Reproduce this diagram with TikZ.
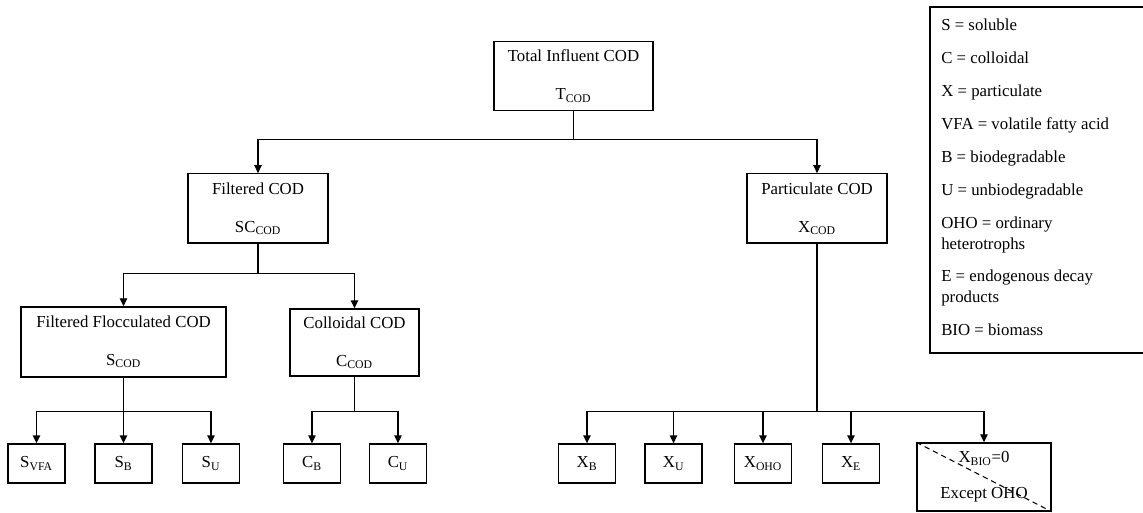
\documentclass[tikz,border=0pt]{standalone}
\usepackage{fontspec}
\setmainfont{Liberation Serif}
\usetikzlibrary{arrows.meta}
\begin{document}
\begin{tikzpicture}[
  x=0.75pt, y=-0.75pt,
  block/.style={rectangle, draw, line width=1pt, minimum width=105pt, minimum height=52pt, align=center, inner sep=2pt},
  leaf/.style={rectangle, draw, line width=1pt, minimum width=42.75pt, minimum height=29.25pt, inner sep=1pt},
  >={Triangle[length=6pt,width=5.5pt]},
  font=\fontsize{12.6}{15}\selectfont
]
\useasboundingbox (0,0) rectangle (1143,513);

% Top level
\node (tot) [block, minimum width=119.25pt] at (573.5,76) {Total Influent COD\\[13.5pt]T\textsubscript{COD}};

% Second level
\node (filt) [block] at (258,208.5) {Filtered COD\\[13.5pt]SC\textsubscript{COD}};
\node (part) [block] at (817,208.5) {Particulate COD\\[13.5pt]X\textsubscript{COD}};

% Filtered branch
\node (floc) [block, minimum width=153.75pt, minimum height=52.5pt] at (123.5,342) {Filtered Flocculated COD\\[13.5pt]S\textsubscript{COD}};
\node (coll) [block, minimum width=96.75pt, minimum height=50.25pt] at (354.5,342.5) {Colloidal COD\\[13.5pt]C\textsubscript{COD}};

% Soluble and colloidal fractions
\node (svfa) [leaf] at (36.5,463.5) {S\textsubscript{VFA}};
\node (sb) [leaf, right of=svfa, node distance=65.25pt] {S\textsubscript{B}};
\node (su) [leaf, right of=sb, node distance=65.6pt] {S\textsubscript{U}};
\node (cb) [leaf, right of=su, node distance=75.75pt] {C\textsubscript{B}};
\node (cu) [leaf, right of=cb, node distance=64.5pt] {C\textsubscript{U}};

% Particulate fractions
\node (xb) [leaf] at (587,463.5) {X\textsubscript{B}};
\node (xu) [leaf, right of=xb, node distance=64.9pt] {X\textsubscript{U}};
\node (xoho) [leaf, right of=xu, node distance=67.1pt] {X\textsubscript{OHO}};
\node (xe) [leaf, right of=xoho, node distance=66pt] {X\textsubscript{E}};
\node (xbio) [leaf, align=center, minimum width=100.5pt, minimum height=51pt] at (984,477) {X\textsubscript{BIO}=0\\[12pt]Except OHO};
\draw[line width=0.8pt, dash pattern=on 4pt off 3pt] (xbio.north west) -- (xbio.south east);

% Connections
\draw[->,line width=1pt] (tot.south) -- ++(0,28) -| (filt.north);
\draw[->,line width=1pt] (tot.south) -- ++(0,28) -| (part.north);
\draw[->,line width=1pt] (filt.south) -- ++(0,30) -| (floc.north);
\draw[->,line width=1pt] (filt.south) -- ++(0,30) -| (coll.north);
\foreach \n in {svfa,sb,su}
  \draw[->,line width=1pt] (floc.south) -- ++(0,34) -| (\n.north);
\foreach \n in {cb,cu}
  \draw[->,line width=1pt] (coll.south) -- ++(0,35) -| (\n.north);
\foreach \n in {xb,xu,xoho,xe,xbio}
  \draw[->,line width=1pt] (part.south) -- ++(0,168) -| (\n.north);

% Key
\draw[line width=1pt] (930,7) rectangle (1170,353);
\node (key) [anchor=north west, align=left, inner sep=0pt, font=\fontsize{12.6}{15.75}\selectfont] at (941,19) {S = soluble\\[8.9pt]
C = colloidal\\[8.9pt]
X = particulate\\[8.9pt]
VFA = volatile fatty acid\\[8.9pt]
B = biodegradable\\[8.9pt]
U = unbiodegradable\\[8.9pt]
OHO = ordinary\\heterotrophs\\[8.9pt]
E = endogenous decay\\products\\[8.9pt]
BIO = biomass};

\end{tikzpicture}
\end{document}
